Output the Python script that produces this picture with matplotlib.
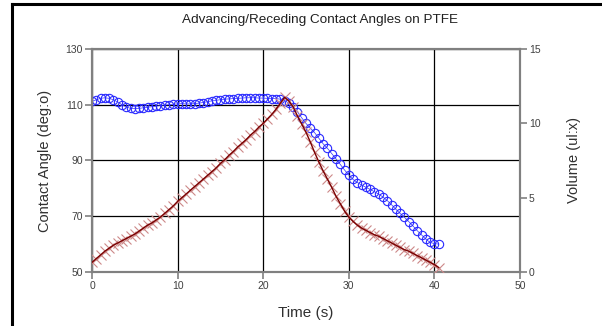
import matplotlib
matplotlib.use("Agg")
import matplotlib.pyplot as plt
from matplotlib.lines import Line2D

plt.rcParams['font.family'] = ['Liberation Sans', 'DejaVu Sans']

time_s = [i * 0.5 for i in range(82)]

contact_angle = [
    111.2, 111.8, 112.3, 112.5, 112.3, 111.8, 111.0, 110.0, 109.2, 108.7,
    108.6, 108.7, 108.9, 109.1, 109.3, 109.5, 109.7, 109.9, 110.0, 110.2,
    110.3, 110.4, 110.3, 110.3, 110.4, 110.6, 110.8, 111.1, 111.4, 111.6,
    111.8, 112.0, 112.1, 112.2, 112.3, 112.4, 112.5, 112.5, 112.5, 112.4,
    112.4, 112.3, 112.2, 112.2, 112.0, 111.5, 110.6, 109.3, 107.5, 105.3,
    103.3, 101.6, 100.0, 98.0, 96.0, 94.4, 92.5, 90.6, 88.6, 86.6,
    84.8, 83.2, 82.1, 81.2, 80.4, 79.6, 78.8, 77.9, 76.9, 75.6,
    74.1, 72.5, 71.0, 69.6, 68.1, 66.5, 64.8, 63.3, 61.8, 60.6,
    60.2, 60.0,
]

volume = [
    0.65, 0.9, 1.15, 1.4, 1.6, 1.8, 1.95, 2.1, 2.25, 2.4,
    2.55, 2.75, 2.95, 3.15, 3.3, 3.5, 3.7, 3.95, 4.2, 4.45,
    4.75, 5.0, 5.25, 5.5, 5.75, 6.0, 6.25, 6.5, 6.75, 7.0,
    7.3, 7.55, 7.85, 8.1, 8.4, 8.65, 8.9, 9.2, 9.45, 9.75,
    10.0, 10.3, 10.6, 10.95, 11.35, 11.75, 11.5, 11.1, 10.5, 9.95,
    9.4, 8.75, 8.05, 7.4, 6.8, 6.25, 5.7, 5.1, 4.6, 4.1,
    3.7, 3.4, 3.15, 2.95, 2.8, 2.65, 2.5, 2.4, 2.25, 2.1,
    1.95, 1.8, 1.65, 1.5, 1.4, 1.25, 1.1, 0.95, 0.8, 0.65,
    0.5, 0.3,
]

x_ticks = [0, 10, 20, 30, 40, 50]
left_ticks = [50, 70, 90, 110, 130]
right_ticks = [0, 5, 10, 15]

W, H = 602, 326
fig = plt.figure(figsize=(W / 100, H / 100), dpi=100)
fig.patch.set_facecolor('white')

ax = fig.add_axes([92 / W, 1 - 272 / H, (520 - 92) / W, (272 - 49) / H])
ax2 = ax.twinx()

spine_c = '#808080'
tick_c = '#404040'

ax.set_xlim(0, 50)
ax.set_ylim(50, 130)
ax2.set_ylim(0, 15)
ax.set_xticks(x_ticks)
ax.set_yticks(left_ticks)
ax2.set_yticks(right_ticks)

ax.grid(True, color='black', linewidth=0.9)
ax.set_axisbelow(True)

for a in (ax, ax2):
    for s in a.spines.values():
        s.set_color(spine_c)
        s.set_linewidth(1.5)
    a.tick_params(colors=spine_c, labelcolor=tick_c, labelsize=7.5, length=5, width=1.2, direction='out', pad=1.5)

ax.plot(time_s, contact_angle, linestyle='-', color='#3030ff', linewidth=0.5,
        marker='o', markersize=6, markerfacecolor='none', markeredgecolor='#2a2aff',
        markeredgewidth=0.8, zorder=3)

ax2.plot(time_s, volume, linestyle='none', marker='x', markersize=6.5,
         markeredgecolor='#cc8888', markeredgewidth=0.8, zorder=3)
ax2.plot(time_s, volume, linestyle='-', color='#7a0000', linewidth=1.0, zorder=4)

ax.set_xlabel('Time (s)', fontsize=11, color='#303030', labelpad=11)
ax.set_ylabel('Contact Angle (deg:o)', fontsize=10.5, color='#303030', labelpad=10)
ax2.set_ylabel('Volume (ul:x)', fontsize=10.5, color='#303030', labelpad=19)

fig.text(320 / W, 1 - 20 / H, 'Advancing/Receding Contact Angles on PTFE',
         ha='center', va='center', fontsize=9.7, color='#202020')

# outer frame (left and top edges visible)
fig.add_artist(Line2D([12 / W, 12 / W], [0, 1 - 4 / H], color='black', linewidth=2.2, transform=fig.transFigure))
fig.add_artist(Line2D([12 / W, 1], [1 - 4 / H, 1 - 4 / H], color='black', linewidth=2.2, transform=fig.transFigure))

fig.savefig('out.png', dpi=100)
